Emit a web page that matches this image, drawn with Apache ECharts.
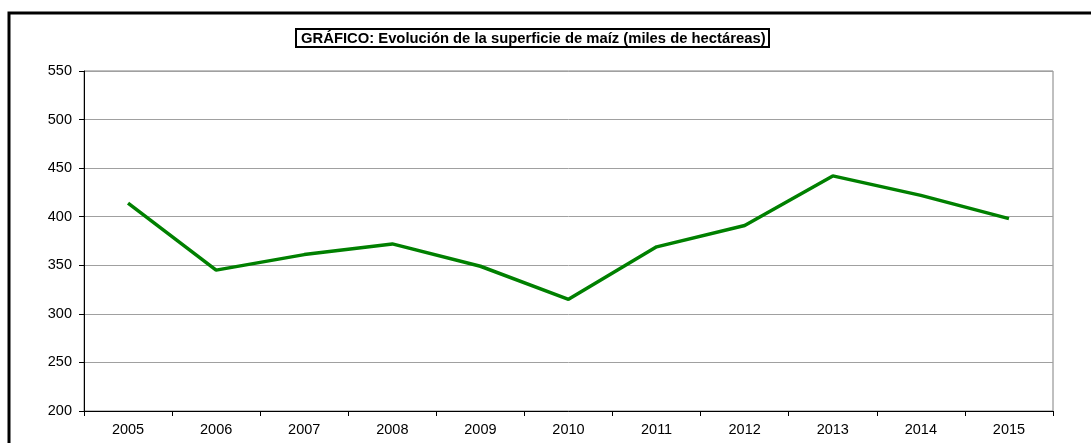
<!DOCTYPE html>
<html>
<head>
<meta charset="utf-8">
<script src="https://cdn.jsdelivr.net/npm/echarts@6/dist/echarts.min.js"></script>
<style>
  html, body { margin: 0; padding: 0; background: #fff; }
  #chart { width: 1091px; height: 443px; }
</style>
</head>
<body>
<div id="chart"></div>
<script>
var years = ['2005', '2006', '2007', '2008', '2009', '2010', '2011', '2012', '2013', '2014', '2015'];
var superficie = [414, 345, 361, 372, 349, 315, 369, 391, 442, 422, 398];
var titulo = 'GRÁFICO: Evolución de la superficie de maíz (miles de hectáreas)';

var myChart = echarts.init(document.getElementById('chart'));

var option = {
    backgroundColor: '#fff',
    animation: false,
    textStyle: { fontFamily: 'Liberation Sans, Arial, sans-serif' },
    title: {
        text: titulo,
        left: 296,
        top: 29,
        padding: [2, 4, 1, 5],
        borderColor: '#000',
        borderWidth: 2,
        textStyle: {
            fontSize: 14.8,
            fontWeight: 'bold',
            color: '#000',
            fontFamily: 'Liberation Sans, Arial, sans-serif'
        }
    },
    graphic: [{
        // marco exterior (sigue fuera de la imagen por la derecha y por abajo)
        type: 'rect',
        shape: { x: 9, y: 13, width: 1200, height: 500 },
        style: { fill: 'none', stroke: '#000', lineWidth: 3 },
        silent: true
    }],
    grid: {
        left: 84,
        top: 71,
        right: 38,
        bottom: 32,
        show: true,
        borderColor: '#808080',
        borderWidth: 1
    },
    xAxis: {
        type: 'category',
        data: years,
        boundaryGap: true,
        axisLine: { lineStyle: { color: '#000', width: 1 } },
        axisTick: { show: true, length: 5, lineStyle: { color: '#000' } },
        axisLabel: { color: '#000', fontSize: 14.5, margin: 11 },
        splitLine: { show: false }
    },
    yAxis: {
        type: 'value',
        min: 200,
        max: 550,
        interval: 50,
        axisLine: { show: true, lineStyle: { color: '#000', width: 1 } },
        axisTick: { show: true, length: 5, lineStyle: { color: '#000' } },
        axisLabel: { color: '#000', fontSize: 14.5, margin: 12 },
        splitLine: { lineStyle: { color: '#a0a0a0', width: 1 } }
    },
    series: [{
        type: 'line',
        data: superficie,
        symbol: 'none',
        lineStyle: { color: '#008000', width: 3.5 },
        itemStyle: { color: '#008000' }
    }]
};

myChart.setOption(option);
</script>
</body>
</html>
